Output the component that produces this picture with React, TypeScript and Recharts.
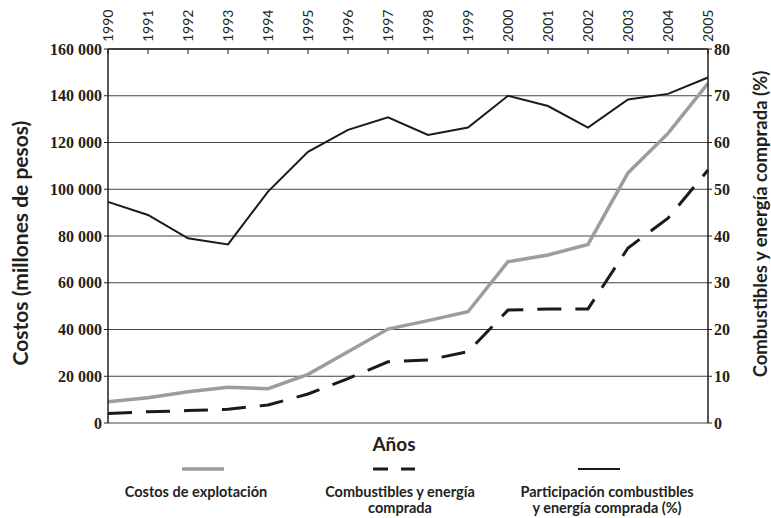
import React from "react"
import { LineChart, Line, XAxis, YAxis, CartesianGrid, Legend } from "recharts"

const years = [1990, 1991, 1992, 1993, 1994, 1995, 1996, 1997, 1998, 1999, 2000, 2001, 2002, 2003, 2004, 2005]
// millones de pesos
const costosExplotacion = [9100, 10800, 13400, 15300, 14700, 20800, 30500, 40200, 43800, 47600, 69000, 71900, 76400, 107000, 123900, 145300]
const combustiblesEnergia = [4100, 4800, 5300, 5900, 7700, 12400, 19000, 26200, 27000, 30500, 48300, 48800, 48800, 74900, 87600, 108200]
// porcentaje
const participacion = [47.3, 44.5, 39.5, 38.2, 49.5, 58, 62.7, 65.4, 61.6, 63.2, 70, 67.8, 63.2, 69.2, 70.4, 73.9]

const leftTicks = [0, 20000, 40000, 60000, 80000, 100000, 120000, 140000, 160000]
const rightTicks = [0, 10, 20, 30, 40, 50, 60, 70, 80]

const legendLabels: Record<string, string[]> = {
  costos: ["Costos de explotación"],
  combustibles: ["Combustibles y energía", "comprada"],
  participacion: ["Participación combustibles", "y energía comprada (%)"],
}
// legend layout: centre of the line sample and of the text
const sampleCenters: Record<string, number> = { costos: 203, combustibles: 394, participacion: 599 }
const textCenters: Record<string, number> = { costos: 196, combustibles: 400, participacion: 607 }

const data = years.map((y, i) => ({
  year: y,
  costos: costosExplotacion[i],
  combustibles: combustiblesEnergia[i],
  participacion: participacion[i],
}))

const sans = "Lato, 'Open Sans', sans-serif"
const serif = "'Liberation Serif', 'DejaVu Serif', serif"
const ink = "#231f20"

const fmtThousands = (v: number) => (v === 0 ? "0" : v.toLocaleString("en-US").replace(/,/g, " "))

const YearTick = (props: any) => {
  const { x, payload } = props
  return (
    <g>
      <line x1={x} x2={x} y1={49} y2={54} stroke={ink} strokeWidth={1} />
      <text
        x={0}
        y={0}
        transform={`translate(${x + 5}, ${42}) rotate(-90)`}
        fontFamily={sans}
        fontSize={14}
        fill={ink}
        textAnchor="start"
      >
        {payload.value}
      </text>
    </g>
  )
}

const LegendContent = (props: any) => {
  const { payload } = props
  return (
    <div style={{ position: "relative", width: 771, height: 53 }}>
      {payload.map((p: any) => {
        const key = p.dataKey as string
        const sx = sampleCenters[key]
        const tx = textCenters[key]
        const lines = legendLabels[key]
        return (
          <div key={key}>
            <svg style={{ position: "absolute", left: sx - 21, top: 0 }} width={42} height={8}>
              <line
                x1={0}
                x2={42}
                y1={4}
                y2={4}
                stroke={p.color}
                strokeWidth={p.payload.strokeWidth}
                strokeDasharray={key === "combustibles" ? "15 13" : undefined}
              />
            </svg>
            <div
              style={{
                position: "absolute",
                left: tx - 130,
                width: 260,
                top: 19,
                textAlign: "center",
                fontFamily: sans,
                fontWeight: 700,
                fontSize: 14.5,
                lineHeight: "16px",
                color: ink,
              }}
            >
              {lines.map((l) => (
                <div key={l}>{l}</div>
              ))}
            </div>
          </div>
        )
      })}
    </div>
  )
}

const titleStyle = (left: number, top: number, size: number, rotate: boolean): React.CSSProperties => ({
  position: "absolute",
  left,
  top,
  transform: `translate(-50%, -50%)${rotate ? " rotate(-90deg)" : ""}`,
  whiteSpace: "nowrap",
  fontFamily: sans,
  fontWeight: 700,
  fontSize: size,
  color: ink,
})

export default function App() {
  return (
    <div style={{ position: "absolute", left: 0, top: 0, width: 771, height: 518, background: "#fff" }}>
      <LineChart width={771} height={518} data={data} margin={{ top: 0, right: 0, bottom: 42, left: 0 }}>
        <CartesianGrid vertical={false} horizontal stroke="#444" strokeWidth={1} yAxisId="left" />
        <XAxis
          dataKey="year"
          type="number"
          domain={[1990, 2005]}
          ticks={years}
          orientation="top"
          height={49}
          axisLine={{ stroke: ink, strokeWidth: 1.5 }}
          tickLine={false}
          tick={<YearTick />}
          interval={0}
        />
        <YAxis
          yAxisId="left"
          width={108}
          domain={[0, 160000]}
          ticks={leftTicks}
          tickFormatter={fmtThousands}
          axisLine={{ stroke: ink, strokeWidth: 1.5 }}
          tickLine={{ stroke: ink }}
          tickSize={4}
          tickMargin={2}
          tick={{ fontFamily: serif, fontWeight: 700, fontSize: 16, fill: ink }}
        />
        <YAxis
          yAxisId="right"
          orientation="right"
          width={63}
          domain={[0, 80]}
          ticks={rightTicks}
          axisLine={{ stroke: ink, strokeWidth: 1.5 }}
          tickLine={{ stroke: ink }}
          tickSize={4}
          tickMargin={2}
          tick={{ fontFamily: serif, fontWeight: 700, fontSize: 16, fill: ink, textAnchor: "start" }}
        />
        <Line
          yAxisId="left"
          dataKey="costos"
          name="Costos de explotación"
          stroke="#9d9d9d"
          strokeWidth={3.5}
          dot={false}
          isAnimationActive={false}
        />
        <Line
          yAxisId="left"
          dataKey="combustibles"
          name="Combustibles y energía comprada"
          stroke="#1a1a1a"
          strokeWidth={3}
          strokeDasharray="24 14"
          dot={false}
          isAnimationActive={false}
        />
        <Line
          yAxisId="right"
          dataKey="participacion"
          name="Participación combustibles y energía comprada (%)"
          stroke="#1a1a1a"
          strokeWidth={2}
          dot={false}
          isAnimationActive={false}
        />
        <Legend
          content={<LegendContent />}
          wrapperStyle={{ position: "absolute", left: 0, top: 465, width: 771, height: 53 }}
        />
      </LineChart>
      <div style={titleStyle(19, 243, 21, true)}>Costos (millones de pesos)</div>
      <div style={titleStyle(760, 224, 18.5, true)}>Combustibles y energía comprada (%)</div>
      <div style={titleStyle(394, 443, 19, false)}>Años</div>
    </div>
  )
}
